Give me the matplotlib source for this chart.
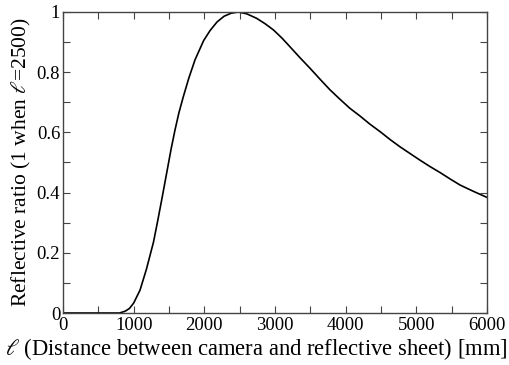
import matplotlib
matplotlib.use("Agg")
import matplotlib.pyplot as plt
from matplotlib.ticker import MultipleLocator

plt.rcParams['font.family'] = ['Liberation Serif', 'DejaVu Serif']
plt.rcParams['mathtext.fontset'] = 'stix'

# values
distance = [0, 400, 800, 880, 940, 1000, 1090, 1180, 1280, 1335, 1400, 1467,
            1530, 1585, 1640, 1703, 1780, 1868, 1990, 2080, 2180, 2280, 2380,
            2480, 2600, 2740, 2860, 2980, 3100, 3210, 3350, 3500, 3640, 3780,
            3920, 4060, 4200, 4340, 4490, 4630, 4770, 4910, 5050, 5190, 5340,
            5480, 5620, 5800, 6000]
ratio = [0.0, 0.0, 0.0, 0.006, 0.015, 0.033, 0.076, 0.145, 0.235, 0.30, 0.38, 0.465,
         0.545, 0.608, 0.665, 0.719, 0.78, 0.841, 0.905, 0.938, 0.967, 0.986, 0.996,
         1.0, 0.994, 0.979, 0.961, 0.940, 0.913, 0.885, 0.849, 0.812, 0.776, 0.741,
         0.710, 0.680, 0.655, 0.628, 0.602, 0.576, 0.552, 0.530, 0.508, 0.487, 0.466,
         0.445, 0.425, 0.405, 0.384]

fig = plt.figure(figsize=(5.1, 3.65), dpi=100)
ax = fig.add_axes([63 / 510, 1 - 313 / 365, 424 / 510, 301 / 365])

ax.plot(distance, ratio, color='black', linewidth=1.2)

ax.set_xlim(0, 6000)
ax.set_ylim(0, 1)
ax.xaxis.set_major_locator(MultipleLocator(1000))
ax.xaxis.set_minor_locator(MultipleLocator(500))
ax.yaxis.set_minor_locator(MultipleLocator(0.1))
ax.set_yticks([0, 0.2, 0.4, 0.6, 0.8, 1])
ax.set_yticklabels(['0', '0.2', '0.4', '0.6', '0.8', '1'])

ax.tick_params(which='both', direction='in', top=True, right=True,
               length=5, width=0.8, labelsize=13.5, color='#444444')
ax.tick_params(axis='x', pad=3)
ax.tick_params(axis='y', pad=2)
for s in ax.spines.values():
    s.set_linewidth(1.0)
    s.set_color('#444444')

ax.set_xlabel(r'$\ell$ (Distance between camera and reflective sheet) [mm]',
              fontsize=16.3)
ax.xaxis.set_label_coords(0.455, -0.078)
ax.set_ylabel(r'Reflective ratio (1 when $\ell$=2500)', fontsize=15.5, labelpad=3)

fig.savefig('out.png', dpi=100)
